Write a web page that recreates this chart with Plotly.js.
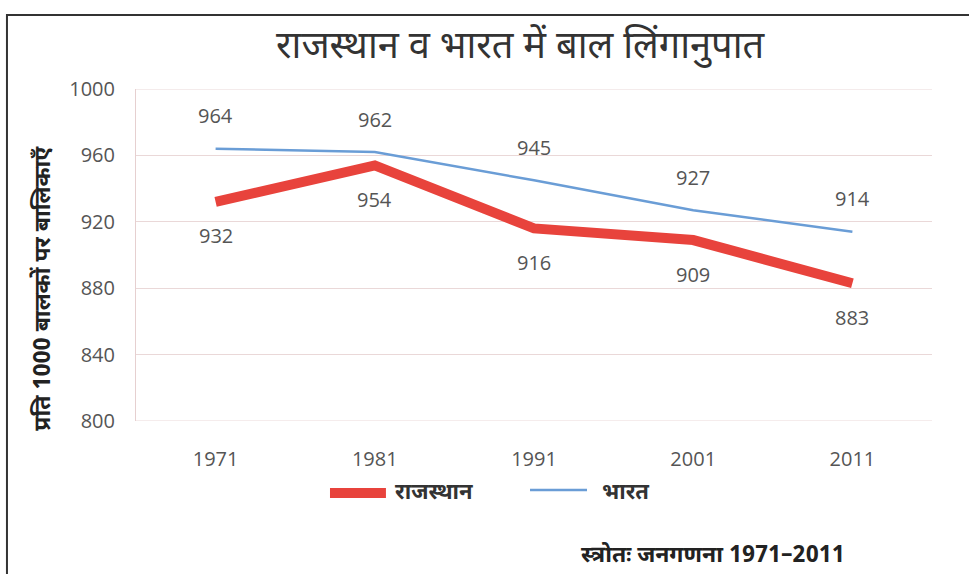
<!DOCTYPE html>
<html><head><meta charset="utf-8">
<script src="https://cdn.plot.ly/plotly-3.0.1.min.js"></script>
<style>html,body{margin:0;padding:0;background:#fff;}</style>
</head><body>
<div id="chart" style="width:969px;height:574px;"></div>
<script>
const years = ['1971','1981','1991','2001','2011'];
const rajasthan = [932, 954, 916, 909, 883];
const bharat = [964, 962, 945, 927, 914];
const yTicks = [800, 840, 880, 920, 960, 1000];
const titleText = 'राजस्थान व भारत में बाल लिंगानुपात';
const yTitle = 'प्रति 1000 बालकों पर बालिकाएँ';
const sourceText = 'स्त्रोतः जनगणना 1971–2011';
const seriesNames = ['राजस्थान', 'भारत'];

const devFont = '"Noto Sans Devanagari", "Noto Sans", "Liberation Sans", sans-serif';
const numFont = '"Open Sans", "Liberation Sans", sans-serif';
const colors = ['#e8433c', '#6a9dd6'];
const gridColor = '#ead8d8';

const traces = [
  {x: years, y: rajasthan, name: seriesNames[0], type: 'scatter', mode: 'lines',
   line: {color: colors[0], width: 10}},
  {x: years, y: bharat, name: seriesNames[1], type: 'scatter', mode: 'lines',
   line: {color: colors[1], width: 2.5}}
];

const annotations = [];
years.forEach((yr, i) => {
  annotations.push({x: i, y: rajasthan[i], xref: 'x', yref: 'y', text: String(rajasthan[i]),
    showarrow: false, yshift: -34, font: {family: numFont, size: 20, color: '#555'}});
  annotations.push({x: i, y: bharat[i], xref: 'x', yref: 'y', text: String(bharat[i]),
    showarrow: false, yshift: 33, font: {family: numFont, size: 20, color: '#555'}});
});
annotations.push({xref: 'paper', yref: 'paper', x: 0.483, y: 1.123, xanchor: 'center', yanchor: 'middle',
  text: titleText, showarrow: false, font: {family: devFont, size: 38, color: '#333'}});
annotations.push({xref: 'paper', yref: 'paper', x: -0.115, y: 0.40, xanchor: 'center', yanchor: 'middle',
  text: '<b>' + yTitle + '</b>', textangle: -90, showarrow: false, font: {family: devFont, size: 23, color: '#222'}});
annotations.push({xref: 'paper', yref: 'paper', x: 0.893, y: -0.407, xanchor: 'right', yanchor: 'middle',
  text: '<b>' + sourceText + '</b>', showarrow: false, font: {family: devFont, size: 23, color: '#222'}});
// custom legend text
annotations.push({xref: 'paper', yref: 'paper', x: 0.3229, y: -0.2169, xanchor: 'left', yanchor: 'middle',
  text: '<b>' + seriesNames[0] + '</b>', showarrow: false, font: {family: devFont, size: 22, color: '#333'}});
annotations.push({xref: 'paper', yref: 'paper', x: 0.5829, y: -0.2169, xanchor: 'left', yanchor: 'middle',
  text: '<b>' + seriesNames[1] + '</b>', showarrow: false, font: {family: devFont, size: 22, color: '#333'}});

const edgeGrid = [yTicks[0], yTicks[yTicks.length - 1]].map(v => ({
  type: 'line', xref: 'paper', yref: 'y', x0: 0, x1: 1, y0: v, y1: v, layer: 'below',
  line: {color: gridColor, width: 1}
}));

const layout = {
  width: 969, height: 574,
  margin: {l: 136, r: 37, t: 89, b: 153},
  paper_bgcolor: '#ffffff', plot_bgcolor: '#ffffff',
  showlegend: false,
  xaxis: {type: 'category', range: [-0.5, 4.5], showgrid: false, zeroline: false, showline: false,
    ticks: '', tickfont: {family: numFont, size: 20, color: '#555'}, ticklabelstandoff: 24},
  yaxis: {range: [800, 1000], tickvals: yTicks, ticktext: yTicks.map(String),
    showgrid: true, gridcolor: gridColor, gridwidth: 1, zeroline: false,
    showline: true, linecolor: '#e6d0d0', ticks: '',
    tickfont: {family: numFont, size: 20, color: '#555'}, ticklabelstandoff: 16},
  annotations: annotations,
  shapes: edgeGrid.concat([
    {type: 'rect', xref: 'paper', yref: 'paper', x0: -0.1621, x1: 1.06, y0: -0.6, y1: 1.2229,
     line: {color: '#333', width: 2}, fillcolor: 'rgba(0,0,0,0)'},
    {type: 'line', xref: 'paper', yref: 'paper', x0: 0.2437, x1: 0.314, y0: -0.2169, y1: -0.2169,
     line: {color: colors[0], width: 10}},
    {type: 'line', xref: 'paper', yref: 'paper', x0: 0.495, x1: 0.5666, y0: -0.2078, y1: -0.2078,
     line: {color: colors[1], width: 2.5}}
  ])
};

Plotly.newPlot('chart', traces, layout, {displayModeBar: false, staticPlot: true});
</script>
</body></html>
